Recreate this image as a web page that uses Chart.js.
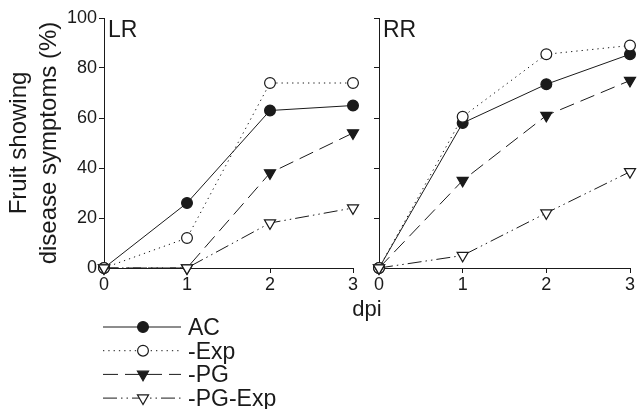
<!DOCTYPE html>
<html><head><meta charset="utf-8">
<script src="https://cdn.jsdelivr.net/npm/chart.js@4.4.0/dist/chart.umd.min.js"></script>
<style>
html,body{margin:0;padding:0;background:#fff;}
#wrap{position:relative;width:639px;height:409px;overflow:hidden;}
canvas{position:absolute;left:0;top:0;}
</style></head><body>
<div id="wrap"><canvas id="c1"></canvas><canvas id="c2"></canvas></div>
<script>
// ---- data ----
const dpiValues = [0, 1, 2, 3];
const seriesNames = ['AC', '-Exp', '-PG', '-PG-Exp'];
const yTicks = [0, 20, 40, 60, 80, 100];
const xTicks = [0, 1, 2, 3];
const LR_AC    = [0, 26, 63, 65];
const LR_Exp   = [0, 12, 74, 74];
const LR_PG    = [0, 0, 38, 54];
const LR_PGExp = [0, 0, 18, 24];
const RR_AC    = [0, 58, 73.5, 85.5];
const RR_Exp   = [0, 60.5, 85.5, 89];
const RR_PG    = [0, 35, 61, 75];
const RR_PGExp = [0, 5, 22, 38.5];
const yTitle = ['Fruit showing', 'disease symptoms (%)'];
const xTitle = 'dpi';

const INK = '#1a1a1a';
const FONT = "'Liberation Sans', Arial, sans-serif";
Chart.defaults.font.family = FONT;
Chart.defaults.color = INK;

const styles = [
  {pointStyle:'circle', radius:5.4, rotation:0, fill:INK, dash:[]},
  {pointStyle:'circle', radius:5.4, rotation:0, fill:'#fff', dash:[1.3,4]},
  {pointStyle:'triangle', radius:6.4, rotation:180, fill:INK, dash:[15,7]},
  {pointStyle:'triangle', radius:6.4, rotation:180, fill:'#fff', dash:[14,4,1.5,4,1.5,4]}
];

function makeDatasets(arrs){
  return arrs.map((vals, i) => ({
    label: seriesNames[i],
    data: dpiValues.map((x, j) => ({x: x, y: vals[j]})),
    borderColor: INK,
    borderWidth: 1,
    borderDash: styles[i].dash,
    pointStyle: styles[i].pointStyle,
    pointRotation: styles[i].rotation,
    pointRadius: styles[i].radius,
    pointHoverRadius: styles[i].radius,
    pointBackgroundColor: styles[i].fill,
    pointBorderColor: INK,
    pointBorderWidth: 1.2,
    tension: 0,
    fill: false,
    clip: false,
    order: 4 - i
  }));
}

function scales(showYLabels, yWidth){
  return {
    x: {
      type:'linear', min:0, max:3,
      afterBuildTicks: s => { s.ticks = xTicks.map(v => ({value:v})); },
      afterFit: s => { s.height = 30; },
      grid: {drawOnChartArea:false, drawTicks:true, tickLength:5, color:INK, lineWidth:1},
      border: {display:true, color:INK, width:1},
      ticks: {font:{size:18}, padding:1, color:INK, maxRotation:0}
    },
    y: {
      type:'linear', min:0, max:100,
      afterBuildTicks: s => { s.ticks = yTicks.map(v => ({value:v})); },
      afterFit: s => { s.width = yWidth; },
      grid: {drawOnChartArea:false, drawTicks:true, tickLength:5, color:INK, lineWidth:1},
      border: {display:true, color:INK, width:1},
      ticks: {font:{size:18}, padding:2, color:INK, callback: v => showYLabels ? String(v) : ''},
      title: showYLabels ? {display:true, text:yTitle, font:{size:24, lineHeight:1.25}, color:INK, padding:{top:4, bottom:0}} : {display:false}
    }
  };
}

function panelLabel(text){
  return {
    id:'panelLabel',
    afterDraw(chart){
      const {ctx, chartArea} = chart;
      ctx.save();
      ctx.font = '23px ' + FONT;
      ctx.fillStyle = INK;
      ctx.textBaseline = 'alphabetic';
      ctx.textAlign = 'left';
      ctx.fillText(text, chartArea.left + 4, chartArea.top + 19);
      ctx.restore();
    }
  };
}

const legendAndTitle = {
  id:'legendAndTitle',
  afterDraw(chart){
    const {ctx, chartArea} = chart;
    ctx.save();
    // shared x title
    ctx.font = '22px ' + FONT;
    ctx.fillStyle = INK;
    ctx.textAlign = 'center';
    ctx.textBaseline = 'alphabetic';
    ctx.fillText(xTitle, 367, chartArea.bottom + 48);
    // legend
    const x0 = chartArea.left - 1, len = 78, y0 = chartArea.bottom + 59, step = 23.7;
    chart.data.datasets.forEach((ds, i) => {
      const y = y0 + i * step;
      ctx.strokeStyle = INK;
      ctx.lineWidth = 1;
      ctx.setLineDash(ds.borderDash);
      ctx.beginPath(); ctx.moveTo(x0, y); ctx.lineTo(x0 + len, y); ctx.stroke();
      ctx.setLineDash([]);
      ctx.fillStyle = ds.pointBackgroundColor;
      ctx.strokeStyle = INK;
      ctx.lineWidth = 1.2;
      Chart.helpers.drawPoint(ctx, {pointStyle: ds.pointStyle, radius: ds.pointRadius, rotation: ds.pointRotation, borderWidth: 1.2}, x0 + 40, y);
      ctx.fillStyle = INK;
      ctx.font = '23px ' + FONT;
      ctx.textAlign = 'left';
      ctx.fillText(ds.label, x0 + 85, y + 8);
    });
    ctx.restore();
  }
};

function common(datasets, padding, showY, yWidth, plugins){
  return {
    type:'line',
    data:{datasets},
    options:{
      responsive:false, animation:false, devicePixelRatio:1,
      layout:{padding},
      scales: scales(showY, yWidth),
      plugins:{legend:{display:false}, tooltip:{enabled:false}}
    },
    plugins
  };
}

function setup(id){
  const c = document.getElementById(id);
  c.width = 639; c.height = 409;
  c.style.width = '639px'; c.style.height = '409px';
  return c;
}

new Chart(setup('c1'), common(makeDatasets([LR_AC, LR_Exp, LR_PG, LR_PGExp]),
  {left:0, right:286, top:18, bottom:111}, true, 104, [panelLabel('LR'), legendAndTitle]));
new Chart(setup('c2'), common(makeDatasets([RR_AC, RR_Exp, RR_PG, RR_PGExp]),
  {left:0, right:9, top:18, bottom:111}, false, 379, [panelLabel('RR')]));
</script>
</body></html>
